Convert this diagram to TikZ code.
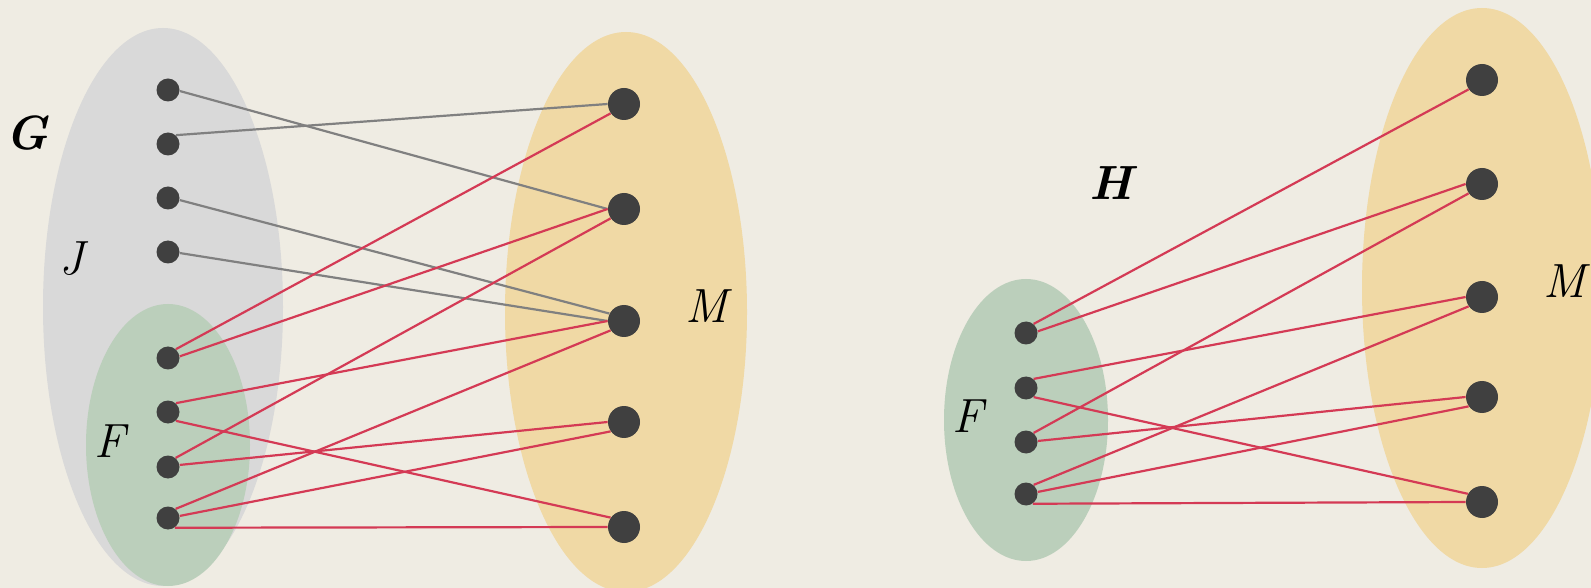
\documentclass[tikz,border=0pt]{standalone}
\definecolor{bg}{RGB}{239,236,227}
\definecolor{grayset}{RGB}{217,217,217}
\definecolor{greenset}{RGB}{187,207,187}
\definecolor{orangeset}{RGB}{240,217,165}
\definecolor{dotc}{RGB}{64,64,64}
\definecolor{edgegray}{RGB}{128,128,128}
\definecolor{edgered}{RGB}{212,58,85}
\begin{document}
\begin{tikzpicture}[x=0.5pt,y=-0.5pt,
  sdot/.style={circle,fill=dotc,inner sep=0pt,minimum size=11.5pt},
  bdot/.style={circle,fill=dotc,inner sep=0pt,minimum size=16pt},
  gedge/.style={draw=edgegray,line width=1.1pt},
  redge/.style={draw=edgered,line width=1.1pt},
  lab/.style={font=\fontsize{24}{28}\selectfont\itshape,inner sep=0pt},
  blab/.style={font=\fontsize{24}{28}\selectfont\bfseries\itshape,inner sep=0pt}]
\fill[bg] (0,0) rectangle (1591,588);
\useasboundingbox (0,0) rectangle (1591,588);
% sets
\fill[grayset] (163,307) ellipse [x radius=60pt, y radius=139.5pt];
\fill[greenset] (168,445) ellipse [x radius=41pt, y radius=70.5pt];
\fill[orangeset] (626,312) ellipse [x radius=60.5pt, y radius=140pt];
\fill[greenset] (1026,420) ellipse [x radius=41pt, y radius=70.5pt];
\fill[orangeset] (1482,288) ellipse [x radius=60pt, y radius=140pt];
% labels
\node[blab] (G) at (27,133) {G};
\node[lab] (J) at (72,259) {J};
\node[lab] (F1) at (110,441) {F};
\node[lab] (M1) at (707,306) {M};
\node[blab] (H) at (1111,183) {H};
\node[lab] (F2) at (968,416) {F};
\node[lab] (M2) at (1565,281) {M};
% left dots
\node[sdot] (a1) at (168,90) {};
\node[sdot] (a2) at (168,144) {};
\node[sdot] (a3) at (168,198) {};
\node[sdot] (a4) at (168,252) {};
\node[sdot] (a5) at (168,358) {};
\node[sdot] (a6) at (168,412) {};
\node[sdot] (a7) at (168,467) {};
\node[sdot] (a8) at (168,518) {};
\node[bdot] (b1) at (624,104) {};
\node[bdot] (b2) at (624,209) {};
\node[bdot] (b3) at (624,321) {};
\node[bdot] (b4) at (624,422) {};
\node[bdot] (b5) at (624,527) {};
% right dots
\node[sdot] (c1) at (1026,333) {};
\node[sdot] (c2) at (1026,388) {};
\node[sdot] (c3) at (1026,442) {};
\node[sdot] (c4) at (1026,494) {};
\node[bdot] (d1) at (1482,80) {};
\node[bdot] (d2) at (1482,184) {};
\node[bdot] (d3) at (1482,297) {};
\node[bdot] (d4) at (1482,397) {};
\node[bdot] (d5) at (1482,502) {};
% left edges
\draw[gedge] (a1.-5) -- (b2.180);
\draw[gedge] (a2.48) -- (b1.180);
\draw[gedge] (a3.-10) -- (b3.153);
\draw[gedge] (a4.-5) -- (b3.180);
\draw[redge] (a5.48) -- (b1.215);
\draw[redge] (a5.8) -- (b2.180);
\draw[redge] (a6.48) -- (b3.180);
\draw[redge] (a6.-48) -- (b5.145);
\draw[redge] (a7.50) -- (b2.215);
\draw[redge] (a7.10) -- (b4.180);
\draw[redge] (a8.50) -- (b3.215);
\draw[redge] (a8.10) -- (b4.215);
\draw[redge] (a8.-55) -- (b5.180);
% right edges
\draw[redge] (c1.50) -- (d1.215);
\draw[redge] (c1.8) -- (d2.180);
\draw[redge] (c2.50) -- (d3.180);
\draw[redge] (c2.-50) -- (d5.150);
\draw[redge] (c3.50) -- (d2.215);
\draw[redge] (c3.5) -- (d4.180);
\draw[redge] (c4.50) -- (d3.215);
\draw[redge] (c4.10) -- (d4.215);
\draw[redge] (c4.-55) -- (d5.180);
\end{tikzpicture}
\end{document}
